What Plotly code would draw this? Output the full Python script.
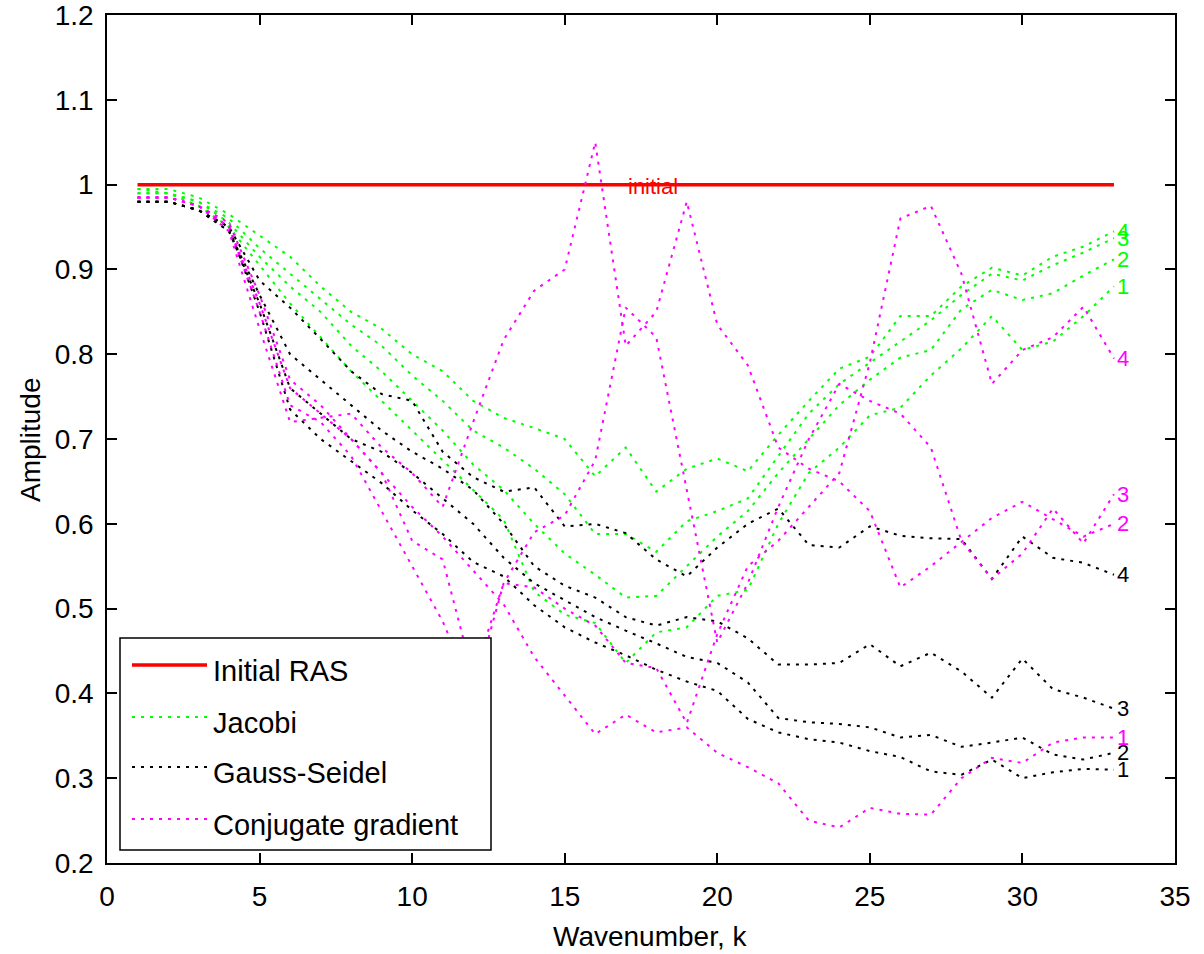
import plotly.graph_objects as go

# Wavenumber samples
k = list(range(1, 34))

# Initial RAS amplitude
initial_ras = [1.0] * 33

# Jacobi, 1..4
jacobi_1 = [0.99, 0.99, 0.975, 0.95, 0.905, 0.86, 0.82, 0.78, 0.745, 0.71,
            0.675, 0.64, 0.605, 0.52, 0.493, 0.483, 0.436, 0.472, 0.478, 0.515,
            0.522, 0.60, 0.66, 0.69, 0.728, 0.737, 0.775, 0.807, 0.845, 0.805,
            0.815, 0.845, 0.88]
jacobi_2 = [0.99, 0.99, 0.98, 0.955, 0.915, 0.88, 0.85, 0.81, 0.78, 0.745,
            0.71, 0.67, 0.64, 0.60, 0.565, 0.54, 0.513, 0.515, 0.55, 0.585,
            0.615, 0.66, 0.70, 0.74, 0.77, 0.796, 0.805, 0.853, 0.876, 0.864,
            0.872, 0.893, 0.912]
jacobi_3 = [0.995, 0.99, 0.98, 0.96, 0.925, 0.895, 0.865, 0.835, 0.81, 0.775,
            0.745, 0.71, 0.69, 0.665, 0.635, 0.588, 0.588, 0.567, 0.603, 0.615,
            0.63, 0.68, 0.73, 0.765, 0.79, 0.815, 0.84, 0.87, 0.895, 0.887,
            0.905, 0.92, 0.937]
jacobi_4 = [0.995, 0.995, 0.985, 0.965, 0.94, 0.915, 0.88, 0.85, 0.83, 0.80,
            0.78, 0.745, 0.725, 0.713, 0.70, 0.656, 0.69, 0.638, 0.665, 0.677,
            0.662, 0.705, 0.745, 0.783, 0.797, 0.845, 0.845, 0.88, 0.902, 0.893,
            0.915, 0.927, 0.945]

# Gauss-Seidel, 1..4
gs_1 = [0.98, 0.98, 0.97, 0.95, 0.85, 0.735, 0.70, 0.674, 0.648, 0.616,
        0.588, 0.555, 0.538, 0.504, 0.478, 0.46, 0.445, 0.428, 0.414, 0.403,
        0.37, 0.354, 0.346, 0.342, 0.332, 0.325, 0.308, 0.304, 0.322, 0.30,
        0.307, 0.311, 0.31]
gs_2 = [0.98, 0.98, 0.97, 0.945, 0.86, 0.76, 0.73, 0.70, 0.685, 0.66,
        0.63, 0.60, 0.56, 0.53, 0.51, 0.49, 0.474, 0.459, 0.443, 0.436,
        0.413, 0.371, 0.366, 0.364, 0.36, 0.348, 0.351, 0.337, 0.342, 0.348,
        0.328, 0.322, 0.33]
gs_3 = [0.98, 0.98, 0.97, 0.945, 0.87, 0.80, 0.77, 0.74, 0.71, 0.685,
        0.665, 0.64, 0.60, 0.55, 0.527, 0.513, 0.49, 0.48, 0.49, 0.485,
        0.465, 0.434, 0.434, 0.436, 0.458, 0.432, 0.448, 0.426, 0.395, 0.441,
        0.405, 0.395, 0.382]
gs_4 = [0.98, 0.98, 0.97, 0.95, 0.887, 0.855, 0.818, 0.78, 0.753, 0.745,
        0.685, 0.655, 0.638, 0.643, 0.597, 0.60, 0.589, 0.558, 0.538, 0.572,
        0.60, 0.618, 0.575, 0.572, 0.597, 0.586, 0.583, 0.582, 0.535, 0.585,
        0.56, 0.554, 0.54]

# Conjugate gradient, 1..4
cg_1 = [0.985, 0.985, 0.975, 0.955, 0.87, 0.77, 0.74, 0.70, 0.66, 0.62,
        0.585, 0.545, 0.505, 0.443, 0.397, 0.352, 0.375, 0.354, 0.36, 0.33,
        0.313, 0.294, 0.25, 0.242, 0.265, 0.258, 0.257, 0.30, 0.324, 0.318,
        0.342, 0.348, 0.348]
cg_2 = [0.985, 0.985, 0.975, 0.945, 0.83, 0.72, 0.725, 0.73, 0.69, 0.66,
        0.62, 0.72, 0.817, 0.875, 0.90, 1.05, 0.81, 0.85, 0.98, 0.835,
        0.787, 0.69, 0.665, 0.65, 0.615, 0.525, 0.55, 0.578, 0.607, 0.626,
        0.605, 0.585, 0.60]
cg_3 = [0.985, 0.985, 0.975, 0.95, 0.85, 0.74, 0.72, 0.68, 0.615, 0.55,
        0.485, 0.40, 0.53, 0.59, 0.61, 0.675, 0.855, 0.82, 0.64, 0.46,
        0.53, 0.62, 0.70, 0.765, 0.745, 0.73, 0.69, 0.58, 0.535, 0.565,
        0.618, 0.577, 0.635]
cg_4 = [0.985, 0.985, 0.975, 0.95, 0.86, 0.76, 0.73, 0.70, 0.66, 0.58,
        0.558, 0.42, 0.53, 0.525, 0.50, 0.48, 0.436, 0.43, 0.365, 0.47,
        0.55, 0.58, 0.62, 0.66, 0.79, 0.96, 0.975, 0.895, 0.765, 0.805,
        0.82, 0.856, 0.795]

x_ticks = [0, 5, 10, 15, 20, 25, 30, 35]
x_tick_text = ["0", "5", "10", "15", "20", "25", "30", "35"]
y_ticks = [0.2, 0.3, 0.4, 0.5, 0.6, 0.7, 0.8, 0.9, 1.0, 1.1, 1.2]
y_tick_text = ["0.2", "0.3", "0.4", "0.5", "0.6", "0.7", "0.8", "0.9", "1", "1.1", "1.2"]

legend_names = ["Initial RAS", "Jacobi", "Gauss-Seidel", "Conjugate gradient"]
curve_labels = ["1", "2", "3", "4"]

RED = "#ff0000"
GREEN = "#00ff00"
BLACK = "#000000"
MAGENTA = "#ff00ff"
FONT = "Liberation Sans, Arial, Helvetica, sans-serif"
DOT = "3px,6px"

W, H = 1204, 954
ML, MR, MT, MB = 107, 29, 15, 91
PW, PH = W - ML - MR, H - MT - MB


def px_x(px):
    return (px - ML) / PW


def px_y(py):
    return (H - MB - py) / PH


fig = go.Figure()

groups = [
    (GREEN, [jacobi_1, jacobi_2, jacobi_3, jacobi_4]),
    (BLACK, [gs_1, gs_2, gs_3, gs_4]),
    (MAGENTA, [cg_1, cg_2, cg_3, cg_4]),
]

fig.add_trace(go.Scatter(x=k, y=initial_ras, mode="lines",
                         line=dict(color=RED, width=3.5),
                         showlegend=False, hoverinfo="skip"))

annotations = []
for color, series in groups:
    for lab, ys in zip(curve_labels, series):
        fig.add_trace(go.Scatter(x=k, y=ys, mode="lines",
                                 line=dict(color=color, width=2, dash=DOT),
                                 showlegend=False, hoverinfo="skip"))
        annotations.append(dict(x=k[-1], y=ys[-1], xref="x", yref="y",
                                text=lab, showarrow=False, xanchor="left",
                                yanchor="middle", xshift=1,
                                font=dict(family=FONT, size=22, color=color)))

annotations.append(dict(x=17, y=initial_ras[16], xref="x", yref="y", text="initial",
                        showarrow=False, xanchor="left", yanchor="middle", yshift=-2,
                        font=dict(family=FONT, size=22, color=RED)))

# axis titles
annotations.append(dict(x=px_x(31), y=px_y(440), xref="paper", yref="paper",
                        text="Amplitude", textangle=-90, showarrow=False,
                        xanchor="center", yanchor="middle",
                        font=dict(family=FONT, size=28, color=BLACK)))
annotations.append(dict(x=px_x(650), y=px_y(936), xref="paper", yref="paper",
                        text="Wavenumber, k", showarrow=False,
                        xanchor="center", yanchor="middle",
                        font=dict(family=FONT, size=28, color=BLACK)))

# legend box drawn over the curves
shapes = [dict(type="rect", xref="paper", yref="paper",
               x0=px_x(120), x1=px_x(491), y0=px_y(850), y1=px_y(638),
               fillcolor="white", line=dict(color=BLACK, width=1.5), layer="above")]
legend_rows = [665, 717, 767, 819]
legend_styles = [(RED, 3.5, "solid"), (GREEN, 2, DOT), (BLACK, 2, DOT), (MAGENTA, 2, DOT)]
for name, row, (color, width, dash) in zip(legend_names, legend_rows, legend_styles):
    shapes.append(dict(type="line", xref="paper", yref="paper",
                       x0=px_x(132), x1=px_x(207), y0=px_y(row), y1=px_y(row),
                       line=dict(color=color, width=width, dash=dash), layer="above"))
    annotations.append(dict(x=px_x(211), y=px_y(row + 6), xref="paper", yref="paper",
                            text=name, showarrow=False, xanchor="left", yanchor="middle",
                            font=dict(family=FONT, size=29, color=BLACK)))

axis_common = dict(showgrid=False, zeroline=False, showline=True, linecolor=BLACK,
                   linewidth=1.5, mirror="ticks", ticks="inside", ticklen=10,
                   tickwidth=1.5, tickcolor=BLACK, ticklabeloverflow="allow",
                   automargin=False,
                   tickfont=dict(family=FONT, size=28, color=BLACK))

fig.update_layout(
    width=W, height=H,
    margin=dict(l=ML, r=MR, t=MT, b=MB, autoexpand=False),
    paper_bgcolor="white", plot_bgcolor="white",
    showlegend=False,
    xaxis=dict(range=[0, 35.0001], tickvals=x_ticks, ticktext=x_tick_text,
               ticklabelstandoff=8, **axis_common),
    yaxis=dict(range=[0.2, 1.2001], tickvals=y_ticks, ticktext=y_tick_text,
               ticklabelstandoff=6, **axis_common),
    annotations=annotations,
    shapes=shapes,
)

fig.write_html("out.html")
